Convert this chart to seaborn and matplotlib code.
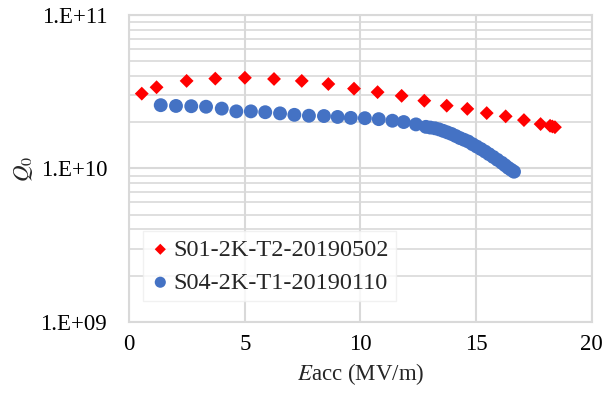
import matplotlib
matplotlib.use("Agg")
import matplotlib.pyplot as plt
import matplotlib.ticker as mticker
import seaborn as sns
import pandas as pd
import numpy as np

# Série S01 (losangos vermelhos)
s01_label = "S01-2K-T2-20190502"
s01_eacc = [0.54, 1.18, 2.48, 3.72, 5.0, 6.26, 7.46, 8.61, 9.72, 10.74,
            11.78, 12.76, 13.73, 14.62, 15.46, 16.28, 17.07, 17.79, 18.2, 18.3, 18.41]
s01_q0 = [3.08e10, 3.39e10, 3.73e10, 3.86e10, 3.91e10, 3.84e10, 3.73e10, 3.56e10, 3.32e10, 3.15e10,
          2.98e10, 2.77e10, 2.57e10, 2.45e10, 2.30e10, 2.19e10, 2.07e10, 1.95e10, 1.90e10, 1.88e10, 1.86e10]

# Série S04 (círculos azuis)
s04_label = "S04-2K-T1-20190110"
s04_eacc = [1.36, 2.02, 2.68, 3.32, 4.0, 4.63, 5.26, 5.88, 6.52, 7.14,
            7.77, 8.42, 9.01, 9.58, 10.19, 10.79, 11.38, 11.87, 12.40, 12.83,
            13.02, 13.22, 13.40, 13.58, 13.76, 13.94, 14.12, 14.30, 14.48, 14.66,
            14.85, 15.03, 15.21, 15.39, 15.56, 15.74, 15.92, 16.11, 16.25, 16.39, 16.52, 16.64]
s04_q0 = [2.59e10, 2.56e10, 2.55e10, 2.53e10, 2.46e10, 2.36e10, 2.36e10, 2.33e10, 2.29e10, 2.24e10,
          2.21e10, 2.20e10, 2.17e10, 2.14e10, 2.13e10, 2.10e10, 2.05e10, 2.01e10, 1.94e10, 1.87e10,
          1.85e10, 1.83e10, 1.80e10, 1.76e10, 1.72e10, 1.68e10, 1.63e10, 1.58e10, 1.54e10, 1.50e10,
          1.44e10, 1.39e10, 1.34e10, 1.29e10, 1.24e10, 1.19e10, 1.14e10, 1.09e10, 1.05e10, 1.01e10, 0.98e10, 0.953e10]

x_ticks = [0, 5, 10, 15, 20]
y_ticks = [1e9, 1e10, 1e11]
y_tick_labels = ["1.E+09", "1.E+10", "1.E+11"]

sns.set_style("white")
plt.rcParams['font.family'] = ['Liberation Serif', 'DejaVu Serif']
plt.rcParams['mathtext.fontset'] = 'stix'

fig = plt.figure(figsize=(6.05, 3.96), dpi=100)
ax = fig.add_axes([0.2137, 0.1876, 0.978 - 0.2137, 0.9614 - 0.1876])

df01 = pd.DataFrame({'Eacc': s01_eacc, 'Q0': s01_q0})
df04 = pd.DataFrame({'Eacc': s04_eacc, 'Q0': s04_q0})

sns.scatterplot(data=df01, x='Eacc', y='Q0', marker='D', s=50, color='#FF0000',
                edgecolor='none', label=s01_label, ax=ax, zorder=3)
sns.scatterplot(data=df04, x='Eacc', y='Q0', marker='o', s=100, color='#4472C4',
                edgecolor='none', label=s04_label, ax=ax, zorder=3)

ax.set_yscale('log')
ax.set_xlim(0, 20)
ax.set_ylim(1e9, 1e11)
ax.set_xticks(x_ticks)
ax.set_yticks(y_ticks)
ax.set_yticklabels(y_tick_labels)
ax.yaxis.set_minor_locator(mticker.LogLocator(base=10, subs=np.arange(2, 10)))
ax.yaxis.set_minor_formatter(mticker.NullFormatter())

# Grade no estilo do Excel
grid_color = '#d9d9d9'
ax.grid(True, which='major', axis='both', color=grid_color, linewidth=1.5)
ax.grid(True, which='minor', axis='y', color=grid_color, linewidth=1.2)
ax.set_axisbelow(True)
for side in ['left', 'bottom', 'right', 'top']:
    ax.spines[side].set_color(grid_color)
    ax.spines[side].set_linewidth(1.5)
ax.tick_params(which='both', length=0, labelsize=16.5, colors='#000000')
ax.tick_params(axis='y', pad=16)
ax.tick_params(axis='x', pad=9)

ax.set_xlabel(r'$E$acc (MV/m)', fontsize=16.5, labelpad=4)
ax.set_ylabel(r'$Q_0$', fontsize=16.5, labelpad=4)

leg = ax.legend(loc='lower left', bbox_to_anchor=(0.025, 0.06), fontsize=17.5,
                frameon=True, fancybox=False, edgecolor='#eeeeee',
                handlelength=0.8, handletextpad=0.15, borderpad=0.3,
                labelspacing=0.45, borderaxespad=0.1, markerscale=0.8)
leg.get_frame().set_linewidth(1.0)

plt.savefig('out.png', dpi=100)
